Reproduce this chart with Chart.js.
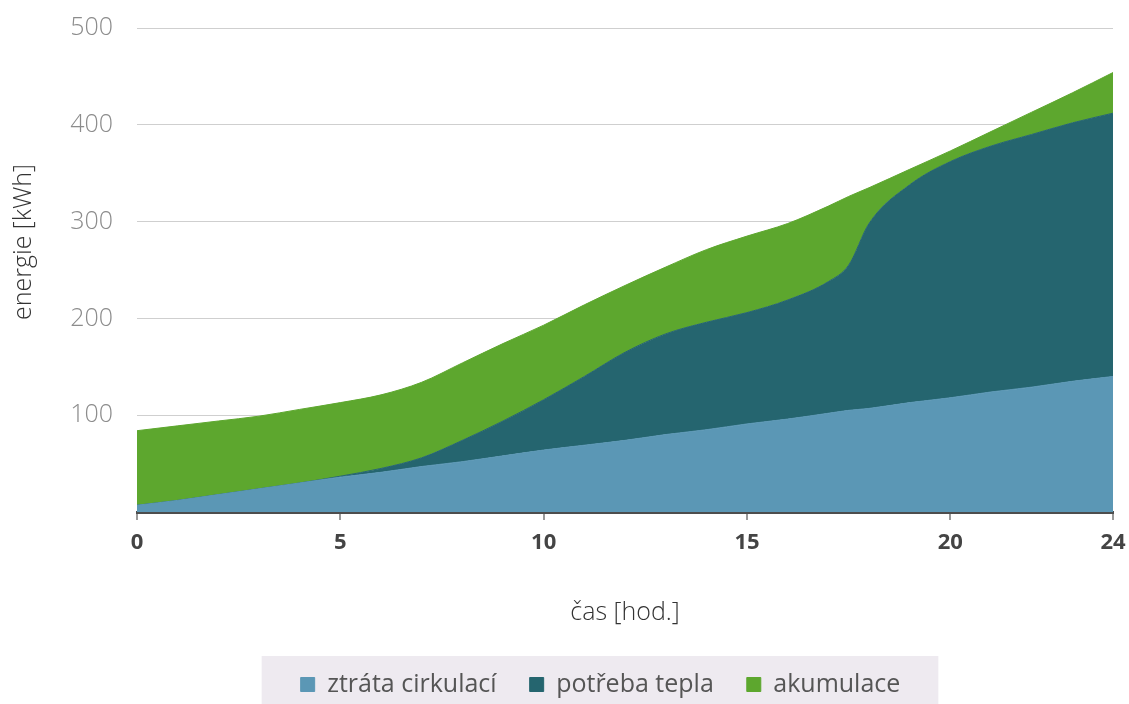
<!DOCTYPE html>
<html>
<head>
<meta charset="utf-8">
<script src="https://cdn.jsdelivr.net/npm/chart.js@4"></script>
<style>
  html, body { margin: 0; padding: 0; background: #fff; }
  #wrap { width: 1129px; height: 704px; }
</style>
</head>
<body>
<div id="wrap"><canvas id="energyChart"></canvas></div>
<script>
// hodiny (osa x) a hodnoty jednotlivých vrstev v kWh
const hours = [0, 1, 2, 3, 4, 5, 6, 7, 8, 9, 10, 11, 12, 13, 14, 15, 16, 17, 17.5, 18, 19, 20, 21, 22, 23, 24];
const ztrataCirkulaci = [7, 12, 18, 24, 30, 36, 41, 47, 52, 58, 64, 69, 74, 80, 85, 91, 96, 102, 105, 107, 113, 118, 124, 129, 135, 140];
const potrebaTepla = [0, 0, 0, 0, 0, 1, 4, 9, 22, 36, 52, 71, 91, 104, 111, 115, 123, 136, 150, 191, 225, 244, 254, 261, 267, 272];
const akumulace = [77, 77, 76, 75, 76, 76, 76, 78, 80, 80, 77, 74, 69, 69, 75, 79, 79, 78, 71, 37, 16, 11, 15, 23, 31, 42];
const xTicks = [0, 5, 10, 15, 20, 24];
const seriesNames = ['ztráta cirkulací', 'potřeba tepla', 'akumulace'];
const colors = ['#5b97b5', '#25656f', '#5da72e'];
const yTitle = 'energie [kWh]';

const FONT = "'Open Sans', 'DejaVu Sans', sans-serif";

const toPoints = arr => arr.map((v, i) => ({ x: hours[i], y: v }));

// světlý pruh za legendou, posun legendy a popisek osy y
const legendBand = {
    id: 'legendBand',
    afterLayout(chart) {
        const lg = chart.legend;
        lg.left += 44;
        lg.right += 44;
        lg.top += 3;
        lg.bottom += 3;
    },
    beforeDraw(chart) {
        const boxes = chart.legend.legendHitBoxes;
        if (!boxes || !boxes.length) return;
        const first = boxes[0];
        const last = boxes[boxes.length - 1];
        const ctx = chart.ctx;
        ctx.save();
        ctx.fillStyle = '#eeeaf0';
        const x0 = first.left - 39;
        const x1 = last.left + last.width + 38;
        const y0 = first.top - 16;
        ctx.fillRect(x0, y0, x1 - x0, chart.height - y0);
        ctx.restore();
    },
    afterDraw(chart) {
        const area = chart.chartArea;
        const ctx = chart.ctx;
        ctx.save();
        ctx.translate(24, (area.top + area.bottom) / 2 - 28);
        ctx.rotate(-Math.PI / 2);
        ctx.fillStyle = '#333';
        ctx.font = "300 25px " + FONT;
        ctx.textAlign = 'center';
        ctx.textBaseline = 'middle';
        ctx.fillText(yTitle, 0, 0);
        ctx.restore();
    }
};

const ctx = document.getElementById('energyChart');

new Chart(ctx, {
    type: 'line',
    data: {
        datasets: [
            {
                label: seriesNames[0],
                data: toPoints(ztrataCirkulaci),
                backgroundColor: colors[0],
                borderColor: colors[0],
                borderWidth: 1,
                fill: 'origin'
            },
            {
                label: seriesNames[1],
                data: toPoints(potrebaTepla),
                backgroundColor: colors[1],
                borderColor: colors[1],
                borderWidth: 1,
                fill: '-1'
            },
            {
                label: seriesNames[2],
                data: toPoints(akumulace),
                backgroundColor: colors[2],
                borderColor: colors[2],
                borderWidth: 1,
                fill: '-1'
            }
        ]
    },
    options: {
        responsive: true,
        maintainAspectRatio: false,
        animation: false,
        elements: {
            point: { radius: 0, hoverRadius: 0 },
            line: { cubicInterpolationMode: 'monotone' }
        },
        layout: {
            padding: { top: 28, right: 16, left: 0, bottom: 0 }
        },
        plugins: {
            tooltip: { enabled: false },
            legend: {
                position: 'bottom',
                labels: {
                    boxWidth: 14,
                    boxHeight: 14,
                    padding: 33,
                    color: '#555',
                    font: { family: FONT, size: 25 }
                }
            }
        },
        scales: {
            x: {
                type: 'linear',
                min: 0,
                max: 24,
                afterBuildTicks: scale => {
                    scale.ticks = xTicks.map(v => ({ value: v }));
                },
                afterFit: scale => {
                    scale.height = 124;
                    scale.paddingLeft = 0;
                    scale.paddingRight = 0;
                },
                ticks: {
                    autoSkip: false,
                    maxRotation: 0,
                    padding: 10,
                    color: '#444',
                    font: { family: FONT, size: 22, weight: 'bold' }
                },
                grid: {
                    drawOnChartArea: false,
                    drawTicks: true,
                    tickLength: 8,
                    color: '#999',
                    lineWidth: 2
                },
                border: { color: '#4d4d4d', width: 3 },
                title: {
                    display: true,
                    text: 'čas [hod.]',
                    color: '#333',
                    font: { family: FONT, size: 25, weight: '300' },
                    padding: { top: 0, bottom: 8 }
                }
            },
            y: {
                stacked: true,
                min: 0,
                max: 500,
                afterFit: scale => {
                    scale.width = 137;
                    scale.paddingTop = 0;
                    scale.paddingBottom = 0;
                },
                ticks: {
                    stepSize: 100,
                    padding: 24,
                    color: '#8c8c8c',
                    font: { family: FONT, size: 25, weight: '300' },
                    callback: v => (v === 0 ? '' : v)
                },
                grid: {
                    drawTicks: false,
                    color: '#cfcfcf',
                    lineWidth: c => (c.tick && c.tick.value === 0 ? 0 : 1)
                },
                border: { display: false },
                title: { display: false }
            }
        }
    },
    plugins: [legendBand]
});
</script>
</body>
</html>
